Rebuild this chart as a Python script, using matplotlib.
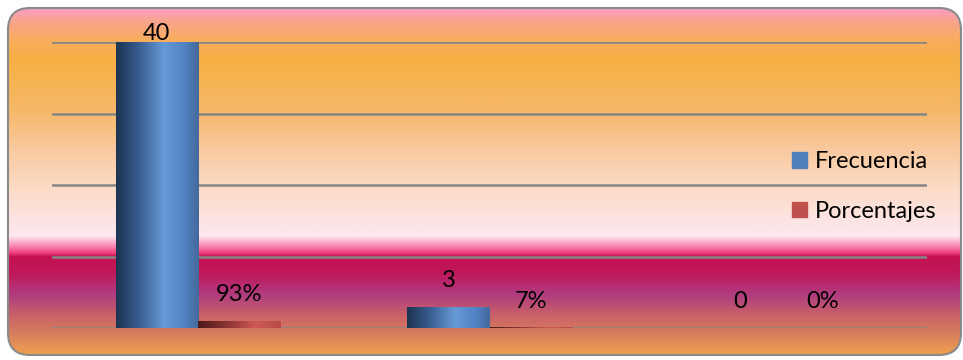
import numpy as np
import matplotlib
matplotlib.use("Agg")
import matplotlib.pyplot as plt
from matplotlib.patches import FancyBboxPatch, Patch
from matplotlib.colors import to_rgb, LinearSegmentedColormap

# datos de la tabla
categorias = ["Siempre", "A veces", "Nunca"]
frecuencia = [40, 3, 0]
porcentajes = [0.93, 0.07, 0.0]
series = ["Frecuencia", "Porcentajes"]

plt.rcParams["font.family"] = ["Lato", "DejaVu Sans"]

W, H = 963, 360
fig = plt.figure(figsize=(W / 100, H / 100), dpi=100)

# fondo con degradado y borde redondeado
bg = fig.add_axes([0, 0, 1, 1])
bg.set_xlim(0, W)
bg.set_ylim(0, H)
bg.axis("off")

stops = [(8, "#f99cc4"), (20, "#f9a48f"), (40, "#f8ad5c"), (60, "#f6b044"),
         (110, "#f6b868"), (150, "#f9caa0"), (190, "#fcdcc8"), (228, "#fde6ea"),
         (236, "#fde8f0"), (240, "#fcc4da"), (247, "#f880b0"), (253, "#f04080"),
         (257, "#c41050"), (275, "#be1a5c"), (295, "#b03c80"), (315, "#c86068"),
         (335, "#d8805c"), (355, "#f0a050")]
ys = np.arange(8, 356)
sy = [s[0] for s in stops]
rgb = np.array([to_rgb(s[1]) for s in stops])
grad = np.stack([np.interp(ys, sy, rgb[:, k]) for k in range(3)], axis=1)
img = np.repeat(grad[:, None, :], 2, axis=1)

frame = FancyBboxPatch((8, 5), 953, 347, boxstyle="round,pad=0,rounding_size=22",
                       fc="none", ec="#8a8a8a", lw=1.5, zorder=3)
bg.add_patch(frame)
im = bg.imshow(img, extent=[8, 961, 5, 352], aspect="auto", zorder=1)
im.set_clip_path(frame)

# grafico principal
ax = fig.add_axes([52 / W, 32 / H, 875 / W, 286 / H])
ax.patch.set_alpha(0)
ax.set_xlim(-0.5, 2.5)
ax.set_ylim(0, 40)
for s in ax.spines.values():
    s.set_visible(False)
ax.set_yticks([0, 10, 20, 30, 40])
ax.set_xticks([])
ax.tick_params(left=False, labelleft=False)
ax.yaxis.grid(True, color="#858585", lw=1.8)
ax.set_axisbelow(True)

x = np.arange(len(categorias))
w = 0.282

blue_cmap = LinearSegmentedColormap.from_list(
    "b", [(0, "#1d3350"), (0.25, "#36598a"), (0.58, "#6699d8"), (0.82, "#5283c4"), (1, "#44699c")])
red_cmap = LinearSegmentedColormap.from_list(
    "r", [(0, "#4a1818"), (0.45, "#a03c3c"), (0.7, "#d05a55"), (1, "#b84a48")])

b1 = ax.bar(x - w / 2, frecuencia, w, color="#4f81bd", label=series[0], zorder=2)
b2 = ax.bar(x + w / 2, porcentajes, w, color="#c0504d", label=series[1], zorder=2)

hgrad = np.linspace(0, 1, 256)[None, :]
for bars, cm in ((b1, blue_cmap), (b2, red_cmap)):
    for r in bars:
        if r.get_height() <= 0:
            continue
        x0, y0 = r.get_x(), r.get_y()
        g = ax.imshow(hgrad, cmap=cm, aspect="auto", zorder=2.5,
                      extent=[x0, x0 + r.get_width(), y0, y0 + r.get_height()])
        g.set_clip_path(r)

ax.set_xlim(-0.5, 2.5)
ax.set_ylim(0, 40)

fs = 17
for i, v in enumerate(frecuencia):
    off = 6 if v >= 40 else 19
    ax.annotate(str(v), (x[i] - w / 2, v), xytext=(0, off), textcoords="offset points",
                ha="center", va="center", fontsize=fs, color="black")
for i, v in enumerate(porcentajes):
    ax.annotate(f"{v:.0%}", (x[i] + w / 2, v), xytext=(0, 19), textcoords="offset points",
                ha="center", va="center", fontsize=fs, color="black")

handles = [Patch(color="#4f81bd"), Patch(color="#c0504d")]
fig.legend(handles, series, loc="upper left", bbox_to_anchor=(792 / W, (H - 151) / H),
           frameon=False, fontsize=fs, handlelength=0.65, handleheight=0.65,
           handletextpad=0.3, labelspacing=1.22, borderpad=0, borderaxespad=0)

fig.savefig("out.png", dpi=100)
